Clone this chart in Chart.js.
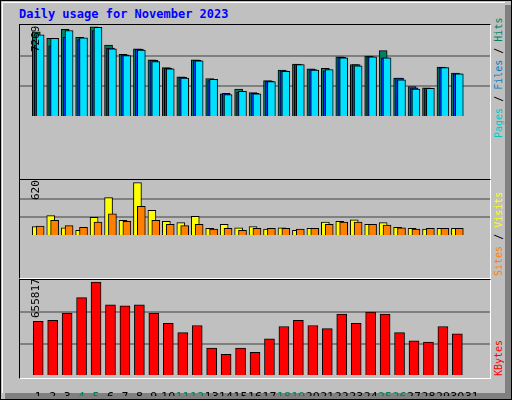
<!DOCTYPE html>
<html><head><meta charset="utf-8">
<script src="https://cdn.jsdelivr.net/npm/chart.js@4/dist/chart.umd.min.js"></script>
<style>
body{margin:0;width:512px;height:400px;overflow:hidden;font-family:"DejaVu Sans Mono",monospace;}
#frame{position:absolute;left:0;top:0;width:510px;height:398px;border:1px solid #000;background:#c0c0c0;}
#bevr{position:absolute;left:505px;top:5px;width:6px;height:394px;background:#808080;}
#bevb{position:absolute;left:5px;top:393px;width:506px;height:6px;background:#808080;}
#inner{position:absolute;left:2px;top:2px;width:502px;height:390px;border-top:1px solid #fff;border-left:1px solid #fff;}
canvas{position:absolute;left:20px;}
.box{position:absolute;left:19px;width:470px;border-top:1px solid #000;border-left:1px solid #000;border-right:1px solid #fff;border-bottom:1px solid #fff;}
.vl{position:absolute;white-space:nowrap;font-size:11px;line-height:12px;transform-origin:0 0;transform:rotate(-90deg);}
.vr{position:absolute;white-space:nowrap;font-size:10px;line-height:12px;transform-origin:0 0;transform:rotate(-90deg);}
#title{position:absolute;left:19px;top:7px;color:#0000ff;font-weight:bold;font-size:12px;}
</style></head><body>
<div id="frame"></div><div id="bevr"></div><div id="bevb"></div><div id="inner"></div>
<div id="title">Daily usage for November 2023</div>
<div class="box" style="top:24px;height:154px"></div>
<div class="box" style="top:179px;height:98px"></div>
<div class="box" style="top:279px;height:98px"></div>
<canvas id="c1" width="470" height="152" style="top:25px"></canvas>
<canvas id="c2" width="470" height="96" style="top:180px"></canvas>
<canvas id="c3" width="470" height="116" style="top:280px"></canvas>
<div class="vl" id="l1" style="left:30px;top:52px"></div>
<div class="vl" id="l2" style="left:30px;top:200px"></div>
<div class="vl" id="l3" style="left:30px;top:318px"></div>
<div class="vr" style="left:493px;top:138px"><span style="color:#00c8c8">Pages</span> / <span style="color:#0080c0">Files</span> / <span style="color:#008060">Hits</span></div>
<div class="vr" style="left:493px;top:276px"><span style="color:#ff8000">Sites</span> / <span style="color:#ffff00">Visits</span></div>
<div class="vr" style="left:493px;top:376px"><span style="color:#ff0000">KBytes</span></div>
<script>
const days = Array.from({length:31},(_,i)=>i+1);
const weekendDays = [4,5,11,12,18,19,25,26];
const hits  = [6875,6335,7070,6430,7269,5795,5060,5500,4615,3975,3240,4615,3095,1865,2260,1965,2945,3780,4270,3880,3930,4860,4225,4910,5350,3145,2455,2355,4025,3535,0];
const files = [5795,5745,6430,6235,6970,5550,5010,5450,4565,3930,3190,4565,2945,1915,2015,1915,2895,3730,4220,3830,3730,4810,4220,4860,4760,3140,2355,2310,3975,3485,0];
const pages = [6630,6335,6970,6385,7220,5500,4960,5400,4470,3880,3140,4520,3045,1815,2060,1865,2850,3680,4220,3780,3830,4760,4125,4860,4760,2995,2260,2310,3975,3485,0];
const visits= [108,236,94,67,216,445,182,620,297,169,155,229,88,135,94,108,81,94,67,88,162,169,189,135,155,101,88,81,88,88,0];
const sites = [115,182,121,101,162,256,169,344,182,135,121,135,81,88,67,88,88,88,81,88,135,162,162,135,128,94,81,88,88,88,0];
const kbytes= [381918,389124,439566,547656,655817,497214,490008,497214,439566,367506,302652,353094,194562,151326,194562,165738,259416,345888,389124,353094,331476,432360,367506,446772,432360,302652,245004,237798,345888,295446,0];
const maxLabels = ["7269","620","655817"];
document.getElementById('l1').textContent=maxLabels[0];
document.getElementById('l2').textContent=maxLabels[1];
document.getElementById('l3').textContent=maxLabels[2];

const XMIN=0.13, XMAX=31.6, UNIT=470/(XMAX-XMIN);
function xs(shiftPx, show){
  const s=shiftPx/UNIT;
  return {type:'linear',display:!!show,min:XMIN-s,max:XMAX-s,
    grid:{display:false},border:{display:false},
    ticks:{display:!!show,stepSize:1,includeBounds:false,autoSkip:false,maxRotation:0,minRotation:0,padding:7,
      font:{family:'DejaVu Sans',size:11},
      color:c=>weekendDays.includes(c.tick.value)?'#008060':'#000',
      callback:v=>Number.isInteger(v)&&v>=1&&v<=31?String(v):''},
    afterFit:sc=>{sc.height=20;}};
}
function ys(max){
  return {type:'linear',min:0,max:max,
    ticks:{display:false,stepSize:max/3},border:{display:false},
    grid:{drawTicks:false,lineWidth:2,color:c=>(c.tick.value>0&&c.tick.value<max-1)?'#808080':'rgba(0,0,0,0)'},
    afterFit:sc=>{sc.width=0;}};
}
function ds(data,color,axis,w,ord){
  return {data:days.map((d,i)=>({x:d,y:data[i]})),backgroundColor:color,borderColor:'#000',borderWidth:1,
    xAxisID:axis,grouped:false,barThickness:w,order:ord};
}
const base={responsive:false,animation:false,devicePixelRatio:1,
  layout:{padding:0},plugins:{legend:{display:false},tooltip:{enabled:false}}};

new Chart(document.getElementById('c1'),{type:'bar',
  data:{datasets:[ds(hits,'#008060','xh',8,2),ds(files,'#0040ff','xf',8,1),ds(pages,'#00e0ff','xp',8,0)]},
  options:{...base,scales:{xh:xs(-4),xf:xs(-2),xp:xs(0),y:ys(7416)}}});
new Chart(document.getElementById('c2'),{type:'bar',
  data:{datasets:[ds(visits,'#ffff00','xv',8,1),ds(sites,'#ff8000','xs',8,0)]},
  options:{...base,scales:{xv:xs(-4),xs:xs(0),y:ys(650)}}});
new Chart(document.getElementById('c3'),{type:'bar',
  data:{datasets:[ds(kbytes,'#ff0000','x',10,0)]},
  options:{...base,scales:{x:xs(-2,true),y:ys(671000)}}});
</script></body></html>
